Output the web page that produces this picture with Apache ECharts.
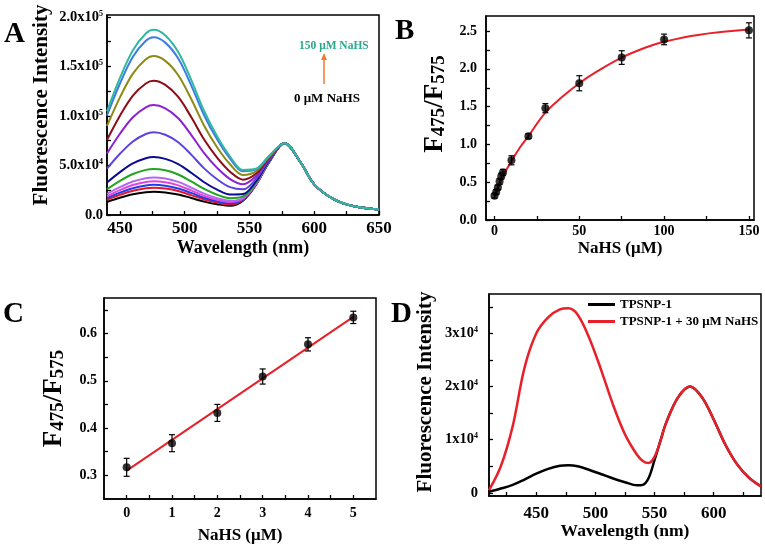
<!DOCTYPE html>
<html><head><meta charset="utf-8">
<script src="https://cdn.jsdelivr.net/npm/echarts@6/dist/echarts.min.js"></script>
<style>html,body{margin:0;padding:0;background:#fff}#c{width:765px;height:550px}</style>
</head><body><div id="c"></div>
<script>
// ---------- Panel A data (intensity in units of 10^3) ----------
const wavelengthsA = [440,450,460,470,476,485,495,505,515,525,535,545,555,565,577,590,600,615,630,650];
const tailA = [72.5,52,31,16,9,5.5]; // common part of all spectra (577-650 nm)
const curveA_black   = [13.2,17.4,20.9,23.0,23.5,22.8,20.7,17.2,13.5,10.9,9.3,14.5,30.4,52.9];
const curveA_red     = [15.4,20.4,24.5,27.0,27.5,26.7,24.2,20.1,15.7,12.6,10.5,15.2,30.8,53.1];
const curveA_blue    = [17.1,22.6,27.1,29.9,30.5,29.6,26.8,22.3,17.4,13.8,11.8,15.8,31.1,53.2];
const curveA_magenta = [19.0,25.2,30.3,33.3,34.0,33.0,29.9,24.8,19.3,15.3,13.2,16.5,31.4,53.4];
const curveA_violet  = [21.3,28.1,33.8,37.2,38.0,36.9,33.4,27.7,21.6,17.0,14.4,17.2,31.8,53.5];
const curveA_green   = [26.0,34.4,41.4,45.6,46.5,45.1,40.9,33.9,26.3,20.5,17.0,18.8,32.7,53.9];
const curveA_navy    = [32.8,43.3,52.1,57.3,58.5,56.7,51.5,42.7,33.1,25.6,20.6,21.1,33.9,54.3];
const curveA_slate   = [46.8,61.8,74.3,81.8,83.5,81.0,73.5,61.0,47.1,36.1,28.1,25.9,36.4,55.3];
const curveA_purple  = [62.2,82.1,98.8,108.8,111.0,107.7,97.7,81.0,62.5,47.6,36.3,31.1,39.1,56.4];
const curveA_maroon  = [75.9,100.3,120.6,132.8,135.5,131.4,119.2,98.9,76.2,57.9,43.7,35.7,41.6,57.4];
const curveA_olive   = [89.9,118.8,142.8,157.3,160.5,155.7,141.2,117.2,90.2,68.4,51.2,40.5,44.1,58.4];
const curveA_royal   = [100.5,132.8,159.8,175.9,179.5,174.1,158.0,131.0,100.8,76.4,56.9,44.1,46.0,59.2];
const curveA_teal    = [104.7,138.4,166.4,183.3,187.0,181.4,164.6,136.5,105.0,79.5,59.1,45.5,46.7,59.5];
const curvesA = [
  ['0 μM', curveA_black, '#000000'],
  ['c2', curveA_red, '#e8142c'],
  ['c3', curveA_blue, '#1f3fe6'],
  ['c4', curveA_magenta, '#e244dc'],
  ['c5', curveA_violet, '#b266f2'],
  ['c6', curveA_green, '#22a51e'],
  ['c7', curveA_navy, '#0c0c92'],
  ['c8', curveA_slate, '#5a44e2'],
  ['c9', curveA_purple, '#8c22d2'],
  ['c10', curveA_maroon, '#8c0c16'],
  ['c11', curveA_olive, '#8c8a12'],
  ['c12', curveA_royal, '#3c7ce8'],
  ['150 μM', curveA_teal, '#32b89e']
];
const ticksA_xLabels = [450,500,550,600,650];
const ticksA_yLabels = [0,50,100,150,200];

// ---------- Panel B data ----------
const nahsB = [0,1,2,3,4,5,10,20,30,50,75,100,150];
const ratioB = [0.32,0.37,0.43,0.51,0.58,0.63,0.79,1.11,1.48,1.81,2.15,2.39,2.51];
const errB = [0.03,0.03,0.03,0.04,0.04,0.04,0.06,0.03,0.06,0.10,0.09,0.07,0.10];
const fitB_x = [0,3,6,10,15,20,30,40,50,60,75,90,100,120,150];
const fitB_y = [0.31,0.48,0.62,0.78,0.96,1.11,1.42,1.63,1.81,1.96,2.15,2.29,2.36,2.45,2.52];

// ---------- Panel C data ----------
const nahsC = [0,1,2,3,4,5];
const ratioC = [0.317,0.368,0.432,0.509,0.577,0.634];
const errC = [0.019,0.018,0.018,0.016,0.014,0.013];
const fitC_x = [0,5];
const fitC_y = [0.310,0.635];

// ---------- Panel D data (intensity) ----------
const wavelengthsD = [410,420,430,440,450,460,470,477,485,495,505,515,525,535,540,545,550,555,560,570,580,590,600,610,620,630,640];
const tpsnp = [200,800,1500,2500,3600,4500,5100,5200,5000,4300,3500,2700,2000,1400,1500,2800,6200,9800,13300,18000,20000,18000,13800,9000,5300,2800,1200];
const tpsnpNahs = [500,5000,12500,23500,30000,33000,34500,34700,33500,29000,23000,16500,11000,7200,6000,5600,6800,9800,13300,18000,20000,18000,13800,9000,5300,2800,1200];

const FONT = "'Liberation Serif','DejaVu Serif',serif";
const richBase = {
  m: {fontFamily: FONT, fontWeight: 'bold', fontSize: 14.5, color: '#000'},
  s: {fontFamily: FONT, fontWeight: 'bold', fontSize: 8, color: '#000', verticalAlign: 'top'}
};
function sci(v, digits) {
  if (v === 0) return digits ? '{m|' + (0).toFixed(digits) + '}' : '{m|0}';
  const e = Math.floor(Math.log10(v) + 1e-9);
  const mant = v / Math.pow(10, e);
  return '{m|' + (digits ? mant.toFixed(digits) : Math.round(mant)) + 'x10}{s|' + e + '}';
}
const tickLbl = {fontFamily: FONT, fontWeight: 'bold', fontSize: 14, color: '#000'};
const tickLblBig = {fontFamily: FONT, fontWeight: 'bold', fontSize: 17, color: '#000'};
const nameStyle = {fontFamily: FONT, fontWeight: 'bold', fontSize: 17, color: '#000'};
const axisLine = {show: true, onZero: false, lineStyle: {color: '#000', width: 1.5}};

function range(a, b, step) { const r = []; for (let v = a; v <= b + 1e-9; v += step) r.push(+v.toFixed(6)); return r; }

function errRender(params, api) {
  const x = api.value(0), y = api.value(1), e = api.value(2);
  const t = api.coord([x, y + e]), b = api.coord([x, y - e]);
  const w = 3, st = {stroke: '#000', lineWidth: 1.2};
  return {type: 'group', children: [
    {type: 'line', shape: {x1: t[0], y1: t[1], x2: b[0], y2: b[1]}, style: st},
    {type: 'line', shape: {x1: t[0] - w, y1: t[1], x2: t[0] + w, y2: t[1]}, style: st},
    {type: 'line', shape: {x1: b[0] - w, y1: b[1], x2: b[0] + w, y2: b[1]}, style: st}
  ]};
}

const grids = [
  {left: 107, top: 15, width: 272, height: 200},
  {left: 486, top: 16, width: 268, height: 204},
  {left: 104, top: 298, width: 272, height: 201},
  {left: 489, top: 294, width: 272, height: 202}
].map(g => Object.assign(g, {show: true, borderColor: '#000', borderWidth: 1.5, backgroundColor: 'transparent'}));

const xAxes = [
  {gridIndex: 0, type: 'value', min: 440, max: 650, name: 'Wavelength (nm)', nameGap: 24,
   nameTextStyle: Object.assign({}, nameStyle, {fontSize: 18}),
   axisLabel: Object.assign({customValues: ticksA_xLabels, margin: 5}, tickLblBig),
   axisTick: {customValues: range(450, 650, 25)}},
  {gridIndex: 1, type: 'value', min: -5, max: 153, name: 'NaHS (μM)', nameGap: 20,
   axisLabel: Object.assign({customValues: [0,50,100,150], margin: 4}, tickLbl),
   axisTick: {customValues: range(0, 150, 25)}},
  {gridIndex: 2, type: 'value', min: -0.5, max: 5.5, name: 'NaHS (μM)', nameGap: 28,
   axisLabel: Object.assign({customValues: [0,1,2,3,4,5], margin: 7}, tickLbl),
   axisTick: {customValues: range(0, 5, 0.5)}},
  {gridIndex: 3, type: 'value', min: 410, max: 640, name: 'Wavelength (nm)', nameGap: 23,
   nameTextStyle: Object.assign({}, nameStyle, {fontSize: 17.5}),
   axisLabel: Object.assign({customValues: [450,500,550,600], margin: 9}, tickLblBig),
   axisTick: {customValues: range(425, 625, 25)}}
].map(a => Object.assign(a, {nameLocation: 'middle', nameTextStyle: a.nameTextStyle || nameStyle, axisLine: axisLine,
   splitLine: {show: false}, axisTick: Object.assign(a.axisTick, {inside: true, length: 4, lineStyle: {color: '#000', width: 1.3}})}));

const fracName = {
  f: {fontFamily: FONT, fontWeight: 'bold', fontSize: 27, color: '#000'},
  b: {fontFamily: FONT, fontWeight: 'bold', fontSize: 19, color: '#000', verticalAlign: 'bottom'}
};
const yAxes = [
  {gridIndex: 0, type: 'value', min: 0, max: 202, name: 'Fluorescence Intensity', nameGap: 55,
   nameTextStyle: Object.assign({}, nameStyle, {fontSize: 21, padding: [0, 0, 0, 20]}),
   axisLabel: {customValues: ticksA_yLabels, margin: 4, formatter: v => sci(v * 1000, 1), rich: richBase},
   axisTick: {customValues: range(0, 200, 25)}},
  {gridIndex: 1, type: 'value', min: 0, max: 2.7, name: '{f|F}{b|475}{f|/F}{b|575}', nameGap: 37,
   nameTextStyle: Object.assign({}, nameStyle, {rich: fracName, padding: [0, 0, 0, 28]}),
   axisLabel: Object.assign({customValues: [0,0.5,1,1.5,2,2.5], margin: 9, formatter: v => v.toFixed(1)}, tickLbl),
   axisTick: {customValues: range(0, 2.5, 0.25)}},
  {gridIndex: 2, type: 'value', min: 0.25, max: 0.675, name: '{f|F}{b|475}{f|/F}{b|575}', nameGap: 36,
   nameTextStyle: Object.assign({}, nameStyle, {rich: fracName}),
   axisLabel: Object.assign({customValues: [0.3,0.4,0.5,0.6], margin: 7, formatter: v => v.toFixed(1)}, tickLbl),
   axisTick: {customValues: range(0.3, 0.65, 0.05)}},
  {gridIndex: 3, type: 'value', min: -600, max: 37400, name: 'Fluorescence Intensity', nameGap: 53,
   nameTextStyle: Object.assign({}, nameStyle, {fontSize: 21, padding: [0, 0, 0, 6]}),
   axisLabel: {customValues: [0,10000,20000,30000], margin: 11, formatter: v => sci(v, 0), rich: richBase},
   axisTick: {customValues: range(0, 35000, 5000)}}
].map(a => Object.assign(a, {nameLocation: 'middle', nameRotate: 90, axisLine: axisLine, splitLine: {show: false},
   axisTick: Object.assign(a.axisTick, {inside: true, length: 4, lineStyle: {color: '#000', width: 1.3}})}));

const series = [];
curvesA.forEach(([name, left, color]) => {
  const vals = left.concat(tailA);
  series.push({type: 'line', name: name, xAxisIndex: 0, yAxisIndex: 0, smooth: 0.35, symbol: 'none',
    lineStyle: {color: color, width: 2}, data: wavelengthsA.map((w, i) => [w, vals[i]])});
});
series.push({type: 'line', xAxisIndex: 1, yAxisIndex: 1, smooth: 0.4, symbol: 'none',
  lineStyle: {color: '#e8202a', width: 2}, data: fitB_x.map((x, i) => [x, fitB_y[i]]), z: 2});
series.push({type: 'custom', xAxisIndex: 1, yAxisIndex: 1, renderItem: errRender,
  data: nahsB.map((x, i) => [x, ratioB[i], errB[i]]), z: 3});
series.push({type: 'scatter', xAxisIndex: 1, yAxisIndex: 1, symbol: 'circle', symbolSize: 8,
  itemStyle: {color: '#000'}, data: nahsB.map((x, i) => [x, ratioB[i]]), z: 4});
series.push({type: 'line', xAxisIndex: 2, yAxisIndex: 2, symbol: 'none',
  lineStyle: {color: '#e8202a', width: 2}, data: fitC_x.map((x, i) => [x, fitC_y[i]]), z: 2});
series.push({type: 'custom', xAxisIndex: 2, yAxisIndex: 2, renderItem: errRender,
  data: nahsC.map((x, i) => [x, ratioC[i], errC[i]]), z: 3});
series.push({type: 'scatter', xAxisIndex: 2, yAxisIndex: 2, symbol: 'circle', symbolSize: 8,
  itemStyle: {color: '#000'}, data: nahsC.map((x, i) => [x, ratioC[i]]), z: 4});
series.push({type: 'line', name: 'TPSNP-1', xAxisIndex: 3, yAxisIndex: 3, smooth: 0.35, symbol: 'none',
  lineStyle: {color: '#000', width: 2.5}, itemStyle: {color: '#000'},
  data: wavelengthsD.map((w, i) => [w, tpsnp[i]])});
series.push({type: 'line', name: 'TPSNP-1 + 30 μM NaHS', xAxisIndex: 3, yAxisIndex: 3, smooth: 0.35, symbol: 'none',
  lineStyle: {color: '#e8202a', width: 2.5}, itemStyle: {color: '#e8202a'},
  data: wavelengthsD.map((w, i) => [w, tpsnpNahs[i]])});

const letter = (t, x, y) => ({type: 'text', left: x, top: y, style: {text: t, font: 'bold 29px ' + FONT, fill: '#000'}});
const chart = echarts.init(document.getElementById('c'));
chart.setOption({
  animation: false,
  backgroundColor: '#fff',
  grid: grids, xAxis: xAxes, yAxis: yAxes, series: series,
  legend: {data: ['TPSNP-1', 'TPSNP-1 + 30 μM NaHS'], orient: 'vertical', left: 588, top: 298,
    itemWidth: 27, itemHeight: 3, itemGap: 4, icon: 'rect', padding: 0,
    textStyle: {fontFamily: FONT, fontWeight: 'bold', fontSize: 13, color: '#000'}},
  graphic: [
    letter('A', 4, 20), letter('B', 395, 17), letter('C', 3, 300), letter('D', 391, 300),
    {type: 'text', left: 299, top: 40, style: {text: '150 μM NaHS', font: 'bold 11.5px ' + FONT, fill: '#2aa98c'}},
    {type: 'text', left: 294, top: 92, style: {text: '0 μM NaHS', font: 'bold 13px ' + FONT, fill: '#000'}},
    {type: 'line', shape: {x1: 324, y1: 84, x2: 324, y2: 58}, style: {stroke: '#f07a2e', lineWidth: 1.5}},
    {type: 'polygon', shape: {points: [[321, 60], [327, 60], [324, 53]]}, style: {fill: '#f07a2e'}}
  ]
});
</script></body></html>
